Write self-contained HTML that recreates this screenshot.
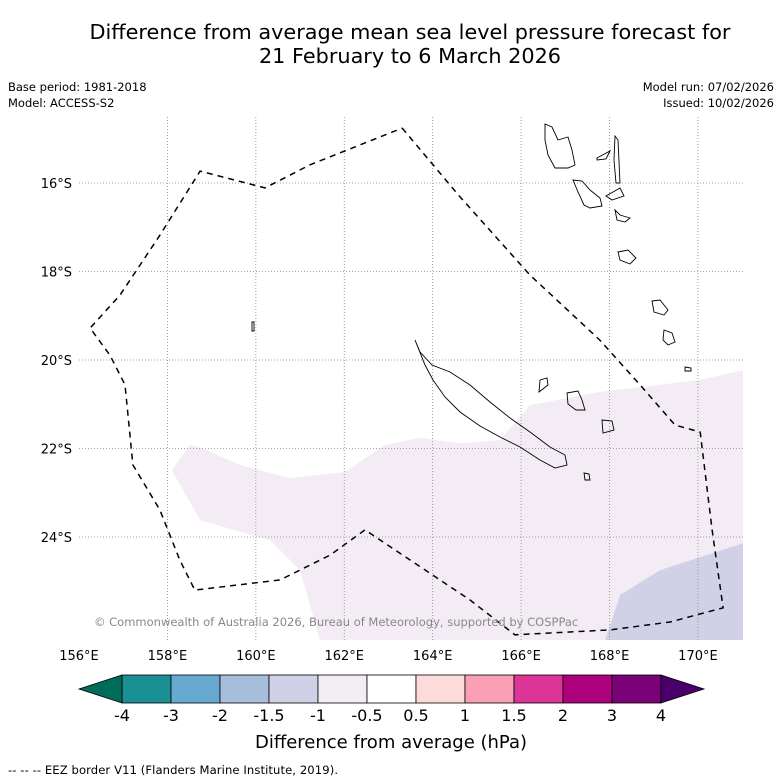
<!DOCTYPE html>
<html><head><meta charset="utf-8">
<style>
body{margin:0;background:#fff;font-family:"Liberation Sans","DejaVu Sans",sans-serif;}
#wrap{position:relative;width:781px;height:781px;overflow:hidden;}
svg text{font-family:"DejaVu Sans","Liberation Sans",sans-serif;}
</style></head>
<body>
<div id="wrap">
<svg id="svg" width="781" height="781" viewBox="0 0 781 781" xmlns="http://www.w3.org/2000/svg">
<text x="410" y="39" font-size="20.8" text-anchor="middle">Difference from average mean sea level pressure forecast for</text>
<text x="410" y="63" font-size="20.8" text-anchor="middle">21 February to 6 March 2026</text>
<text x="8" y="91" font-size="11.5">Base period: 1981-2018</text>
<text x="8" y="107" font-size="11.5">Model: ACCESS-S2</text>
<text x="774" y="91" font-size="11.5" text-anchor="end">Model run: 07/02/2026</text>
<text x="774" y="107" font-size="11.5" text-anchor="end">Issued: 10/02/2026</text>
<defs><clipPath id="mapclip"><rect x="79" y="117" width="664" height="523"/></clipPath></defs>
<g id="map" clip-path="url(#mapclip)"></g>
<g id="axes"></g>
<text x="94" y="626" font-size="11.5" fill="#888">© Commonwealth of Australia 2026, Bureau of Meteorology, supported by COSPPac</text>
<g id="cbar"></g>
<text x="391" y="748" font-size="18" text-anchor="middle">Difference from average (hPa)</text>
<text x="8" y="774" font-size="11.6" textLength="330">--  --  -- EEZ border V11 (Flanders Marine Institute, 2019).</text>
</svg>
</div>
<script>
const lonTicks=[156,158,160,162,164,166,168,170];
const latTicks=[16,18,20,22,24];
const levelLabels=["-4","-3","-2","-1.5","-1","-0.5","0.5","1","1.5","2","3","4"];
const levelColors=["#1a9094","#67a9cf","#a6bddb","#d0d1e6","#f3ecf5","#ffffff","#fddbdb","#fa9fb5","#dd3497","#ae017e","#7a0177"];
const underColor="#016c59", overColor="#49006a";
const eezLon=[163.31,164.58,166.20,167.17,167.78,168.69,169.48,170.05,170.32,170.57,169.37,168.01,165.86,164.84,163.49,162.47,161.68,160.55,158.62,158.28,157.83,157.22,157.04,156.70,156.25,156.93,157.83,158.74,160.21,161.22,163.31];
const eezLat=[14.76,16.27,18.08,18.98,19.55,20.56,21.47,21.63,23.84,25.60,25.92,26.10,26.21,25.42,24.52,23.84,24.41,24.97,25.20,24.52,23.39,22.37,20.56,19.89,19.28,18.53,17.18,15.73,16.11,15.59,14.76];
const lightLon=[158.10,158.51,158.74,159.64,160.77,162.02,162.92,163.71,164.62,165.52,166.20,167.78,170.05,171.02,171.02,161.45,161.00,160.32,158.74];
const lightLat=[22.49,21.92,21.97,22.37,22.67,22.53,21.92,21.76,21.88,21.81,21.02,20.72,20.45,20.23,26.33,26.33,24.75,24.07,23.62];
const darkLon=[167.90,168.24,169.14,171.02,171.02];
const darkLat=[26.33,25.31,24.75,24.14,26.33];

const NS="http://www.w3.org/2000/svg";
const X=lon=>79+(lon-156)*44.21;
const Y=lat=>183+(lat-16)*44.25;
function mk(tag,attrs,parent){const e=document.createElementNS(NS,tag);for(const k in attrs)e.setAttribute(k,attrs[k]);parent.appendChild(e);return e;}
const map=document.getElementById('map'),axes=document.getElementById('axes'),cbar=document.getElementById('cbar');
function pts(lo,la){return lo.map((v,i)=>X(v).toFixed(1)+","+Y(la[i]).toFixed(1)).join(" ");}
let p=mk('polygon',{points:pts(lightLon,lightLat),fill:"#f3ecf5"},map);


p=mk('polygon',{points:pts(darkLon,darkLat),fill:"#d0d1e6"},map);


lonTicks.forEach(l=>{
  if(l>156){const g=mk('line',{x1:X(l),x2:X(l),y1:117,y2:640,stroke:"#888","stroke-width":0.8,"stroke-dasharray":"1,2"},map);
  
  }
  const t=mk('text',{x:X(l),y:660,"font-size":13,"text-anchor":"middle"},axes);t.textContent=l+"°E";
  
  
});
latTicks.forEach(l=>{
  const g=mk('line',{x1:79,x2:743,y1:Y(l),y2:Y(l),stroke:"#888","stroke-width":0.8,"stroke-dasharray":"1,2"},map);
  
  
  const t=mk('text',{x:72,y:Y(l)+5,"font-size":13,"text-anchor":"end"},axes);t.textContent=l+"°S";
  
  
});
const isl=[
 "M415,340 L420,352 L432,365 L450,372 L470,385 L490,402 L510,418 L530,432 L550,447 L565,455 L567,465 L555,468 L540,460 L520,447 L500,437 L480,426 L460,412 L445,397 L433,380 L425,365 Z",
 "M545,124 L552,127 L558,140 L568,137 L572,150 L575,165 L568,168 L555,168 L548,155 L545,140 Z",
 "M573,180 L582,181 L590,190 L600,198 L602,206 L590,208 L584,205 L578,192 Z",
 "M597,158 L610,151 L606,159 L597,160 Z",
 "M615,136 L618,140 L620,183 L616,183 L614,160 Z",
 "M606,196 L620,188 L624,196 L612,200 Z",
 "M615,210 L620,215 L630,218 L625,222 L617,220 Z",
 "M618,252 L628,250 L636,258 L630,264 L620,260 Z",
 "M652,301 L660,300 L668,310 L664,315 L654,312 Z",
 "M664,330 L672,333 L675,342 L668,345 L663,340 Z",
 "M567,393 L578,391 L582,400 L585,410 L576,410 L568,404 Z",
 "M602,420 L612,421 L614,430 L603,433 Z",
 "M540,380 L547,378 L548,385 L539,392 Z",
 "M584,473 L589,474 L590,480 L585,480 Z",
 "M685,367 L691,368 L691,371 L685,371 Z",
 "M252,322 L254,322 L254,331 L252,331 Z"
];
isl.forEach(d=>{const e=mk('path',{d:d,fill:"none",stroke:"#000","stroke-width":0.9},map);
 
 });
const eez=mk('polyline',{points:pts(eezLon,eezLat),fill:"none",stroke:"#000","stroke-width":1.5,"stroke-dasharray":"6,5"},map);


const cx0=122,cw=49,cy=675,ch=28;
levelColors.forEach((c,i)=>{const r=mk('rect',{x:cx0+i*cw,y:cy,width:cw,height:ch,fill:c,stroke:"#000","stroke-width":0.8},cbar);
 
 });
const xe=cx0+levelColors.length*cw;
let tri=mk('polygon',{points:`${cx0},${cy} 79,${cy+ch/2} ${cx0},${cy+ch}`,fill:underColor,stroke:"#000","stroke-width":0.8},cbar);


tri=mk('polygon',{points:`${xe},${cy} ${xe+43},${cy+ch/2} ${xe},${cy+ch}`,fill:overColor,stroke:"#000","stroke-width":0.8},cbar);


levelLabels.forEach((l,i)=>{const t=mk('text',{x:cx0+i*cw,y:721,"font-size":16,"text-anchor":"middle"},cbar);t.textContent=l;
 
 });
</script>
</body></html>
